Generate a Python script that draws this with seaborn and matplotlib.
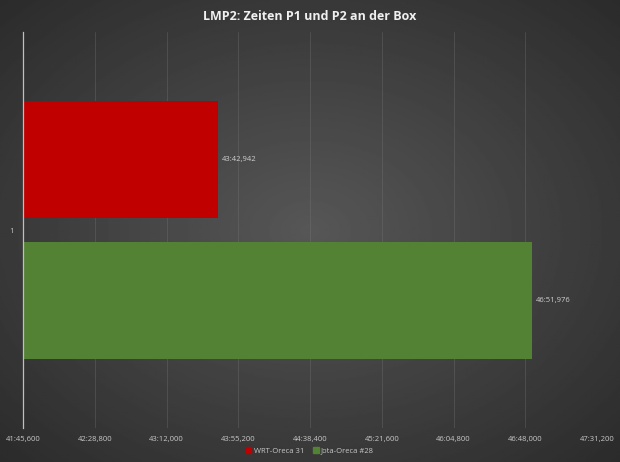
import numpy as np
import pandas as pd
import seaborn as sns
import matplotlib.pyplot as plt
from matplotlib.ticker import FuncFormatter, MultipleLocator
from matplotlib.patches import Patch

# Daten (Zeiten in Sekunden)
teams = ["WRT-Oreca 31", "Jota-Oreca #28"]
zeiten = [43 * 60 + 42.942, 46 * 60 + 51.976]
labels = ["43:42,942", "46:51,976"]
farben = ["#c00000", "#548235"]
kategorie = ["1", "1"]

df = pd.DataFrame({"Kategorie": kategorie, "Team": teams, "Zeit": zeiten})

def fmt(x, pos=None):
    m = int(x // 60)
    s = x - m * 60
    ms = int(round((s - int(s)) * 1000))
    return f"{m}:{int(s):02d},{ms:03d}"

sns.set_style("dark")
plt.rcParams["font.family"] = ["Open Sans", "DejaVu Sans"]

fig = plt.figure(figsize=(6.2, 4.62), dpi=100)

# radialer Hintergrund
bg = fig.add_axes([0, 0, 1, 1], zorder=-1)
yy, xx = np.mgrid[-1:1:300j, -1:1:400j]
r = np.sqrt(xx ** 2 + yy ** 2) / np.sqrt(2)
bg.imshow(0.34 - 0.17 * r, cmap="gray", vmin=0, vmax=1, aspect="auto",
          extent=[0, 1, 0, 1])
bg.axis("off")

ax = fig.add_axes([23 / 620, 1 - 428 / 462, 574 / 620, 396 / 462])
ax.patch.set_alpha(0)

sns.barplot(data=df, x="Zeit", y="Kategorie", hue="Team", palette=farben,
            orient="h", width=0.717, gap=0.176, legend=False, ax=ax,
            saturation=1, linewidth=0, edgecolor="none")

ax.set_xlim(2505.6, 2851.2)
ax.set_ylim(0.5, -0.5)
ax.xaxis.set_major_locator(MultipleLocator(43.2))
ax.xaxis.set_major_formatter(FuncFormatter(fmt))
ax.grid(axis="x", color="#7a7a7a", linewidth=0.5, alpha=0.45)
ax.grid(axis="y", visible=False)
ax.set_axisbelow(True)
for s in ["top", "right", "bottom"]:
    ax.spines[s].set_visible(False)
ax.spines["left"].set_color("#bfbfbf")
ax.spines["left"].set_linewidth(0.9)
ax.tick_params(axis="both", length=0, colors="#c8c8c8", labelsize=5.5)
ax.tick_params(axis="x", pad=6)
ax.tick_params(axis="y", pad=7)
ax.set_xlabel("")
ax.set_ylabel("")

for bar, lab in zip(ax.patches, labels):
    ax.text(bar.get_x() + bar.get_width() + 2.5,
            bar.get_y() + bar.get_height() / 2, lab,
            color="#d0d0d0", fontsize=5.5, va="center", ha="left")

fig.text(0.5, 1 - 17 / 462, "LMP2: Zeiten P1 und P2 an der Box",
         color="#f0f0f0", fontsize=9, fontweight="bold",
         ha="center", va="center")

handles = [Patch(color=c, label=t) for c, t in zip(farben, teams)]
fig.legend(handles=handles, loc="center", bbox_to_anchor=(0.5, 1 - 451 / 462),
           ncol=2, frameon=False, fontsize=5.5, labelcolor="#c8c8c8",
           handlelength=0.7, handleheight=0.7, handletextpad=0.3,
           columnspacing=1.2)

fig.savefig("out.png", dpi=100)
